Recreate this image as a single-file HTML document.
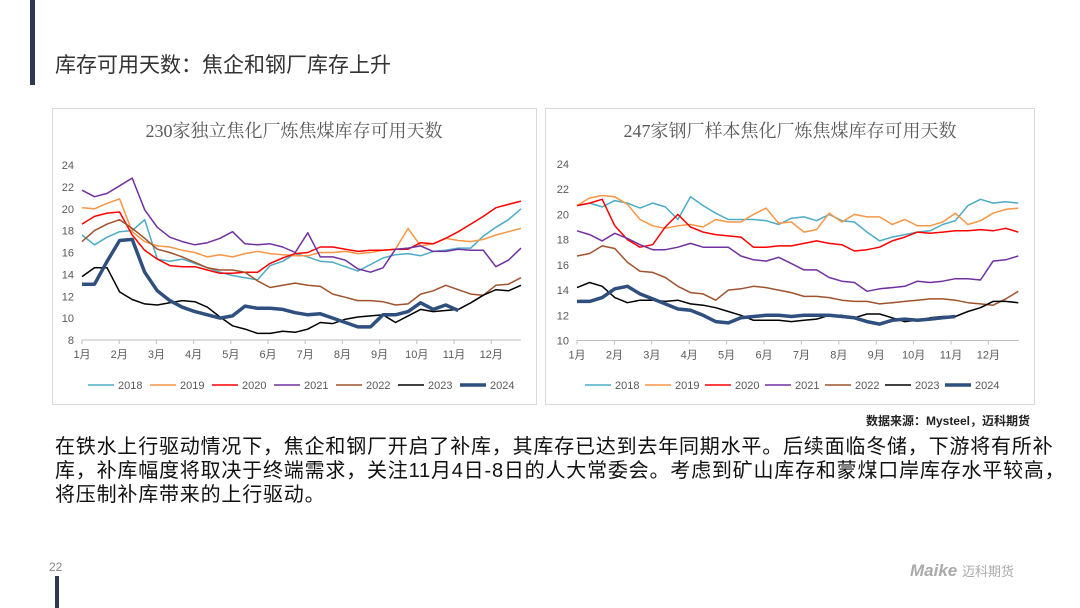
<!DOCTYPE html>
<html><head><meta charset="utf-8">
<style>
body{margin:0;width:1080px;height:608px;background:#fff;position:relative;overflow:hidden;font-family:"Liberation Sans","Noto Sans CJK SC",sans-serif;}
.abs{position:absolute;}
</style></head>
<body>
<div class="abs" style="left:30px;top:0;width:5px;height:85px;background:#2e3a55"></div>
<div class="abs" style="left:55px;top:49px;font-size:21px;color:#333;">库存可用天数：焦企和钢厂库存上升</div>
<div class="abs" style="left:52px;top:108px;width:485px;height:297px;border:1px solid #d9d9d9;box-sizing:border-box"></div>
<div class="abs" style="left:545px;top:108px;width:490px;height:297px;border:1px solid #d9d9d9;box-sizing:border-box"></div>
<svg class="abs" style="left:0;top:0" width="1080" height="608" id="charts"></svg>
<div class="abs" style="right:50px;top:412px;font-size:12px;font-weight:bold;color:#222;">数据来源：Mysteel，迈科期货</div>
<div class="abs" style="left:55px;top:435px;width:1020px;font-size:20px;line-height:24px;color:#111;white-space:nowrap;letter-spacing:0.8px">在铁水上行驱动情况下，焦企和钢厂开启了补库，其库存已达到去年同期水平。后续面临冬储，下游将有所补<br>库，补库幅度将取决于终端需求，关注11月4日-8日的人大常委会。考虑到矿山库存和蒙煤口岸库存水平较高，<br>将压制补库带来的上行驱动。</div>
<div class="abs" style="left:49px;top:560px;font-size:12px;color:#888;">22</div>
<div class="abs" style="left:55px;top:576px;width:4px;height:32px;background:#2e3a55"></div>
<div class="abs" style="left:910px;top:561px;font-size:17px;font-weight:bold;font-style:italic;color:#aaa;">Maike <span style="font-size:13px;font-style:normal;font-weight:normal">迈科期货</span></div>
<script>
const years=["2018","2019","2020","2021","2022","2023","2024"];
const colors=["#4bacc6","#f79646","#ff0000","#7030a0","#a0522d","#000000","#2f4f7f"];
const months=["1月","2月","3月","4月","5月","6月","7月","8月","9月","10月","11月","12月"];
const leftTicks=[8,10,12,14,16,18,20,22,24];
const rightTicks=[10,12,14,16,18,20,22,24];
const left2018=[17.6,16.7,17.4,17.9,18.0,19.0,15.4,15.2,15.4,15.0,14.6,14.2,13.9,13.7,13.5,14.8,15.2,15.9,15.6,15.2,15.1,14.7,14.3,14.9,15.5,15.8,15.9,15.7,16.1,16.2,16.4,16.4,17.5,18.3,19.0,20.0];
const left2019=[20.1,20.0,20.5,20.9,17.9,17.0,16.6,16.5,16.2,16.0,15.6,15.8,15.6,15.9,16.1,15.9,15.8,15.7,15.7,16.0,16.0,16.1,15.9,16.0,16.2,16.3,18.2,16.6,16.8,17.3,17.1,17.0,17.2,17.6,17.9,18.2];
const left2020=[18.6,19.3,19.6,19.7,17.6,16.2,15.4,14.8,14.7,14.7,14.4,14.1,14.1,14.2,14.2,15.0,15.5,15.9,16.0,16.5,16.5,16.3,16.1,16.2,16.2,16.3,16.3,16.9,16.8,17.3,17.9,18.6,19.3,20.1,20.4,20.7];
const left2021=[21.7,21.1,21.4,22.1,22.8,19.9,18.3,17.4,17.0,16.7,16.9,17.3,17.9,16.8,16.7,16.8,16.5,16.0,17.8,15.6,15.6,15.3,14.5,14.2,14.6,16.3,16.4,16.6,16.1,16.1,16.3,16.2,16.2,14.7,15.3,16.4];
const left2022=[17.0,18.0,18.6,19.0,18.2,17.3,16.3,16.0,15.6,15.1,14.6,14.4,14.4,14.2,13.4,12.8,13.0,13.2,13.0,12.9,12.2,11.9,11.6,11.6,11.5,11.2,11.3,12.2,12.5,13.0,12.6,12.2,12.1,13.0,13.1,13.7];
const left2023=[13.8,14.6,14.6,12.4,11.7,11.3,11.2,11.4,11.6,11.5,11.0,10.1,9.3,9.0,8.6,8.6,8.8,8.7,9.0,9.6,9.5,9.9,10.1,10.2,10.3,9.6,10.2,10.8,10.6,10.7,10.8,11.4,12.1,12.6,12.5,13.0];
const left2024=[13.1,13.1,15.2,17.1,17.2,14.2,12.5,11.6,11.0,10.6,10.3,10.0,10.2,11.1,10.9,10.9,10.8,10.5,10.3,10.4,10.0,9.6,9.2,9.2,10.3,10.3,10.6,11.4,10.8,11.2,10.7];
const right2018=[20.7,20.9,20.6,21.1,20.9,20.5,20.9,20.6,19.6,21.4,20.7,20.1,19.6,19.6,19.6,19.5,19.2,19.7,19.8,19.5,20.0,19.5,19.4,18.6,17.9,18.2,18.4,18.6,18.7,19.2,19.5,20.7,21.2,20.9,21.0,20.9];
const right2019=[20.7,21.3,21.5,21.4,20.8,19.6,19.1,18.9,19.1,19.2,19.0,19.6,19.4,19.4,20.0,20.5,19.3,19.4,18.6,18.8,20.1,19.4,20.0,19.8,19.8,19.2,19.6,19.1,19.1,19.4,20.1,19.2,19.5,20.1,20.4,20.5];
const right2020=[20.7,20.9,21.2,19.1,18.0,17.4,17.6,19.0,20.0,19.0,18.6,18.4,18.3,18.2,17.4,17.4,17.5,17.5,17.7,17.9,17.7,17.6,17.1,17.2,17.4,17.9,18.2,18.6,18.5,18.6,18.7,18.7,18.8,18.7,18.9,18.6];
const right2021=[18.7,18.4,17.9,18.5,18.1,17.6,17.2,17.2,17.4,17.7,17.4,17.4,17.4,16.7,16.4,16.3,16.6,16.1,15.6,15.6,15.0,14.7,14.6,13.9,14.1,14.2,14.3,14.7,14.6,14.7,14.9,14.9,14.8,16.3,16.4,16.7];
const right2022=[16.7,16.9,17.5,17.3,16.2,15.5,15.4,15.0,14.3,13.8,13.7,13.2,14.0,14.1,14.3,14.2,14.0,13.8,13.5,13.5,13.4,13.2,13.1,13.1,12.9,13.0,13.1,13.2,13.3,13.3,13.2,13.0,12.9,12.8,13.3,13.9];
const right2023=[14.2,14.6,14.3,13.4,13.0,13.2,13.2,13.1,13.2,12.9,12.8,12.6,12.3,12.0,11.6,11.6,11.6,11.5,11.6,11.7,12.0,12.0,11.8,12.1,12.1,11.8,11.5,11.6,11.8,11.9,11.9,12.3,12.6,13.1,13.1,13.0];
const right2024=[13.1,13.1,13.4,14.1,14.3,13.7,13.3,12.9,12.5,12.4,12.0,11.5,11.4,11.8,11.9,12.0,12.0,11.9,12.0,12.0,12.0,11.9,11.8,11.5,11.3,11.6,11.7,11.6,11.7,11.8,11.9];

const NS="http://www.w3.org/2000/svg";
const svg=document.getElementById('charts');
function mk(tag,attrs,parent){const e=document.createElementNS(NS,tag);for(const k in attrs)e.setAttribute(k,attrs[k]);(parent||svg).appendChild(e);return e;}

function drawChart(cfg){
  const g=mk('g',{});
  
  
  const yMin=cfg.ticks[0],yMax=cfg.ticks[cfg.ticks.length-1];
  const y=v=>cfg.y1-(v-yMin)/(yMax-yMin)*(cfg.y1-cfg.y0);
  const x=t=>cfg.x0+t*cfg.mw;
  const t=mk('text',{x:cfg.cx,y:137,'text-anchor':'middle','font-size':18,fill:'#595959','font-family':'"Liberation Serif","Noto Serif CJK SC",serif'},g);
  t.textContent=cfg.title;
  
  
  cfg.ticks.forEach(v=>{const e=mk('text',{x:cfg.x0-8,y:y(v)+4,'text-anchor':'end','font-size':11,fill:'#595959'},g);e.textContent=v;
    
    });
  mk('line',{x1:cfg.x0,x2:cfg.xEnd,y1:cfg.y1,y2:cfg.y1,stroke:'#bfbfbf'},g);
  months.forEach((m,i)=>{mk('line',{x1:x(i),x2:x(i),y1:cfg.y1,y2:cfg.y1+4,stroke:'#bfbfbf'},g);
    const e=mk('text',{x:x(i),y:cfg.y1+18,'text-anchor':'middle','font-size':11,fill:'#595959'},g);e.textContent=m;
    
    });
  const span=11.8;
  cfg.series.forEach((s,si)=>{
    const n=cfg.nFull;
    const pts=s.map((v,k)=>x(k*span/(n-1)).toFixed(1)+','+y(v).toFixed(1)).join(' ');
    const p=mk('polyline',{points:pts,fill:'none',stroke:colors[si],'stroke-width':si===6?3.5:1.5,'stroke-linejoin':'round'},g);
    
    
    const lx=cfg.legX+si*cfg.legStep;
    const ll=mk('line',{x1:lx,x2:lx+26,y1:385,y2:385,stroke:colors[si],'stroke-width':si===6?3.5:1.5},g);
    
    
    const lt=mk('text',{x:lx+30,y:389,'font-size':11,fill:'#595959'},g);lt.textContent=years[si];
    
    
  });
}
drawChart({name:'left-chart',title:'230家独立焦化厂炼焦煤库存可用天数',cx:294,x0:82,mw:37.2,xEnd:521,y0:165,y1:340,ticks:leftTicks,nFull:36,legX:88,legStep:62,
  series:[left2018,left2019,left2020,left2021,left2022,left2023,left2024]});
drawChart({name:'right-chart',title:'247家钢厂样本焦化厂炼焦煤库存可用天数',cx:790,x0:577,mw:37.4,xEnd:1019,y0:164,y1:340.5,ticks:rightTicks,nFull:36,legX:585,legStep:60,
  series:[right2018,right2019,right2020,right2021,right2022,right2023,right2024]});
</script>
</body></html>
